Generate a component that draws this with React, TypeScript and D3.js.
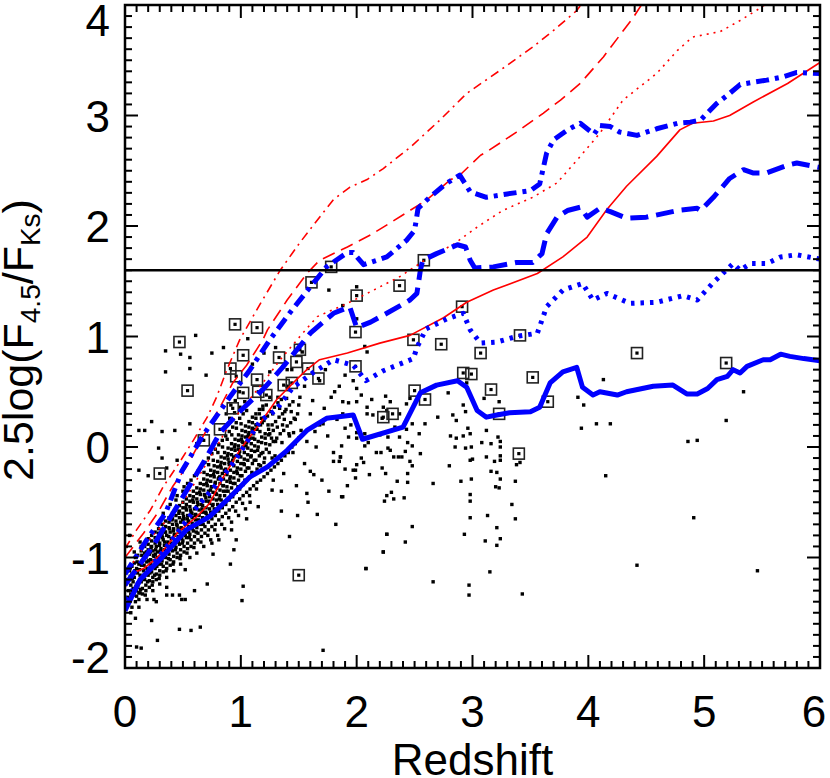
import React from 'react';
import * as d3 from 'd3';

const W = 830, H = 778;
const X0 = 125, X1 = 820, Y0 = 668, Y1 = 5;

const xTickLabels = [0, 1, 2, 3, 4, 5, 6];
const yTickLabels = [-2, -1, 0, 1, 2, 3, 4];
const cutLine = 1.6;
const xLabel = 'Redshift';

// Blue (thick) model tracks
const blueSolid = [[0,-1.48],[0.13,-1.2],[0.3,-1.02],[0.53,-0.75],[0.73,-0.63],[0.91,-0.45],[1.08,-0.27],[1.23,-0.18],[1.4,-0.03],[1.57,0.15],[1.74,0.26],[1.97,0.29],[2.05,0.07],[2.4,0.18],[2.55,0.49],[2.69,0.56],[2.87,0.6],[2.95,0.54],[3.04,0.33],[3.12,0.27],[3.21,0.29],[3.32,0.31],[3.5,0.32],[3.58,0.36],[3.67,0.58],[3.78,0.68],[3.9,0.72],[3.95,0.54],[4.04,0.47],[4.1,0.5],[4.25,0.47],[4.33,0.5],[4.56,0.55],[4.73,0.56],[4.85,0.48],[4.94,0.48],[5.03,0.53],[5.11,0.61],[5.2,0.64],[5.25,0.7],[5.31,0.67],[5.37,0.73],[5.51,0.79],[5.57,0.79],[5.66,0.84],[5.74,0.82],[5.86,0.8],[6,0.78]];
const blueDotted = [[0,-1.38],[0.2,-1.12],[0.4,-0.85],[0.6,-0.57],[0.82,-0.3],[0.93,-0.15],[1.0,-0.04],[1.17,0.24],[1.3,0.33],[1.45,0.54],[1.62,0.67],[1.8,0.79],[1.97,0.74],[2.08,0.6],[2.23,0.69],[2.49,0.8],[2.52,0.9],[2.6,1.07],[2.78,1.16],[2.92,1.21],[2.98,1.06],[3.07,0.94],[3.21,0.95],[3.38,1.0],[3.56,1.03],[3.64,1.27],[3.78,1.42],[3.95,1.48],[4.04,1.33],[4.16,1.39],[4.36,1.3],[4.59,1.31],[4.82,1.37],[4.94,1.33],[5.08,1.49],[5.25,1.66],[5.31,1.6],[5.4,1.66],[5.54,1.66],[5.66,1.72],[5.8,1.74],[6,1.7]];
const blueDashed = [[0,-1.25],[0.24,-0.9],[0.5,-0.45],[0.7,-0.1],[0.82,0.13],[1.0,0.33],[1.19,0.52],[1.36,0.72],[1.6,1.03],[1.8,1.21],[1.94,1.27],[2.0,1.08],[2.12,1.13],[2.26,1.21],[2.46,1.33],[2.52,1.39],[2.55,1.6],[2.57,1.69],[2.69,1.75],[2.87,1.83],[2.94,1.81],[2.98,1.69],[3.02,1.62],[3.18,1.63],[3.38,1.67],[3.52,1.67],[3.6,1.75],[3.64,1.93],[3.73,2.08],[3.82,2.14],[3.93,2.17],[3.99,2.08],[4.1,2.16],[4.19,2.13],[4.33,2.07],[4.5,2.08],[4.77,2.14],[4.94,2.16],[4.97,2.14],[5.08,2.26],[5.22,2.43],[5.34,2.51],[5.42,2.48],[5.54,2.48],[5.72,2.55],[5.8,2.57],[6,2.53]];
const blueDashDot = [[0,-1.15],[0.2,-0.82],[0.35,-0.6],[0.49,-0.22],[0.67,0.1],[0.91,0.46],[1.08,0.7],[1.25,0.97],[1.42,1.21],[1.6,1.45],[1.74,1.63],[1.92,1.76],[1.97,1.76],[2.06,1.65],[2.26,1.72],[2.43,1.87],[2.5,1.96],[2.53,2.16],[2.63,2.26],[2.78,2.39],[2.89,2.46],[2.98,2.31],[3.12,2.26],[3.3,2.29],[3.5,2.32],[3.58,2.38],[3.64,2.66],[3.7,2.78],[3.82,2.87],[3.93,2.93],[4.05,2.83],[4.1,2.91],[4.19,2.9],[4.27,2.85],[4.42,2.82],[4.59,2.88],[4.77,2.93],[4.88,2.94],[4.97,2.96],[5.11,3.11],[5.22,3.2],[5.31,3.28],[5.42,3.3],[5.54,3.32],[5.68,3.35],[5.8,3.39],[6,3.38]];

// Red (thin) model tracks
const redSolid = [[0,-1.27],[0.07,-1.14],[0.16,-1.1],[0.28,-1.0],[0.45,-0.78],[0.62,-0.63],[0.73,-0.51],[0.85,-0.27],[0.99,-0.03],[1.17,0.22],[1.31,0.43],[1.48,0.61],[1.57,0.7],[1.68,0.79],[1.92,0.85],[2.2,0.94],[2.46,1.01],[2.75,1.17],[2.95,1.31],[3.18,1.42],[3.56,1.57],[3.78,1.72],[3.99,1.9],[4.16,2.15],[4.33,2.36],[4.59,2.63],[4.79,2.87],[4.9,2.93],[5.08,2.95],[5.22,3.0],[5.42,3.12],[5.72,3.29],[6,3.48]];
const redDotted = [[0,-1.15],[0.2,-0.85],[0.5,-0.5],[0.71,-0.14],[0.9,0.2],[1.05,0.4],[1.19,0.58],[1.34,0.79],[1.51,1.0],[1.66,1.18],[1.92,1.3],[2.09,1.39],[2.37,1.54],[2.63,1.72],[2.83,1.83],[3.04,1.99],[3.26,2.14],[3.52,2.26],[3.73,2.39],[3.93,2.63],[4.1,2.84],[4.3,3.14],[4.59,3.38],[4.77,3.59],[4.9,3.71],[5.14,3.76],[5.31,3.86],[5.48,3.97],[5.55,4.02]];
const redDashed = [[0,-1.0],[0.16,-0.78],[0.28,-0.6],[0.41,-0.36],[0.53,-0.18],[0.67,0.09],[0.82,0.36],[0.93,0.58],[1.05,0.74],[1.19,0.97],[1.23,1.06],[1.4,1.33],[1.57,1.57],[1.68,1.69],[1.92,1.81],[2.12,1.92],[2.23,1.99],[2.46,2.14],[2.61,2.24],[2.81,2.42],[2.87,2.44],[3.07,2.64],[3.12,2.67],[3.38,2.85],[3.61,3.02],[3.76,3.14],[3.93,3.29],[4.13,3.53],[4.39,3.89],[4.47,4.02]];
const redDashDot = [[0,-0.92],[0.1,-0.75],[0.22,-0.57],[0.33,-0.36],[0.47,-0.14],[0.59,0.06],[0.71,0.27],[0.79,0.45],[0.88,0.7],[0.99,0.97],[1.17,1.3],[1.34,1.6],[1.51,1.85],[1.68,2.08],[1.8,2.24],[1.94,2.35],[2.09,2.42],[2.23,2.52],[2.46,2.71],[2.72,2.96],[2.95,3.2],[3.24,3.41],[3.52,3.62],[3.7,3.77],[3.9,3.95],[3.95,4.02]];

// Galaxies: dense main cloud
const cloud = [[0.02,-1.42],[0.03,-1.3],[0.01,-1.2],[0.04,-1.12],[0.02,-1.36],[0.05,-1.25],
[0.06,-1.45],[0.05,-1.33],[0.07,-1.22],[0.06,-1.15],[0.08,-1.05],[0.07,-1.28],[0.05,-1.5],
[0.09,-1.4],[0.1,-1.3],[0.08,-1.18],[0.1,-1.1],[0.09,-1.0],[0.11,-1.24],[0.1,-1.35],[0.08,-0.95],
[0.12,-1.38],[0.11,-1.27],[0.13,-1.16],[0.12,-1.06],[0.11,-0.98],[0.13,-1.21],[0.12,-1.32],[0.14,-0.9],[0.12,-1.45],
[0.15,-1.33],[0.14,-1.22],[0.16,-1.12],[0.15,-1.03],[0.14,-0.94],[0.16,-1.17],[0.15,-1.28],[0.13,-0.86],[0.16,-1.0],
[0.18,-1.3],[0.17,-1.2],[0.19,-1.1],[0.18,-1.0],[0.17,-0.9],[0.19,-1.15],[0.18,-1.25],[0.2,-0.83],[0.17,-0.96],[0.19,-1.38],
[0.21,-1.27],[0.2,-1.16],[0.22,-1.06],[0.21,-0.97],[0.2,-0.88],[0.22,-1.1],[0.21,-1.21],[0.23,-0.8],[0.2,-0.93],[0.22,-1.02],
[0.24,-1.22],[0.23,-1.13],[0.25,-1.03],[0.24,-0.94],[0.23,-0.85],[0.25,-1.07],[0.24,-1.18],[0.26,-0.77],[0.23,-0.9],[0.25,-0.99],[0.24,-1.3],
[0.27,-1.2],[0.26,-1.1],[0.28,-1.0],[0.27,-0.9],[0.26,-0.82],[0.28,-1.05],[0.27,-1.15],[0.29,-0.74],[0.26,-0.87],[0.28,-0.95],
[0.3,-1.16],[0.29,-1.06],[0.31,-0.96],[0.3,-0.87],[0.29,-0.78],[0.31,-1.01],[0.3,-1.12],[0.32,-0.7],[0.29,-0.83],[0.31,-0.92],[0.3,-1.24],
[0.33,-1.13],[0.32,-1.03],[0.34,-0.93],[0.33,-0.84],[0.32,-0.75],[0.34,-0.98],[0.33,-1.08],[0.35,-0.67],[0.32,-0.8],[0.34,-0.89],[0.33,-0.6],
[0.36,-1.1],[0.35,-1.0],[0.37,-0.9],[0.36,-0.8],[0.35,-0.72],[0.37,-0.95],[0.36,-1.05],[0.38,-0.64],[0.35,-0.77],[0.37,-0.86],[0.36,-1.18],
[0.39,-1.07],[0.38,-0.97],[0.4,-0.87],[0.39,-0.77],[0.38,-0.68],[0.4,-0.92],[0.39,-1.02],[0.41,-0.6],[0.38,-0.73],[0.4,-0.83],[0.39,-0.52],
[0.42,-1.04],[0.41,-0.94],[0.43,-0.84],[0.42,-0.74],[0.41,-0.65],[0.43,-0.89],[0.42,-0.99],[0.44,-0.57],[0.41,-0.7],[0.43,-0.8],[0.42,-1.12],[0.44,-0.48],
[0.45,-1.0],[0.44,-0.91],[0.46,-0.81],[0.45,-0.71],[0.44,-0.62],[0.46,-0.86],[0.45,-0.96],[0.47,-0.53],[0.44,-0.67],[0.46,-0.77],[0.45,-0.44],
[0.48,-0.98],[0.47,-0.88],[0.49,-0.78],[0.48,-0.68],[0.47,-0.58],[0.49,-0.83],[0.48,-0.93],[0.5,-0.5],[0.47,-0.64],[0.49,-0.74],[0.48,-1.06],[0.5,-0.4],
[0.51,-0.95],[0.5,-0.85],[0.52,-0.75],[0.51,-0.65],[0.5,-0.55],[0.52,-0.8],[0.51,-0.9],[0.53,-0.47],[0.5,-0.6],[0.52,-0.7],[0.51,-0.36],
[0.54,-0.92],[0.53,-0.82],[0.55,-0.72],[0.54,-0.62],[0.53,-0.52],[0.55,-0.77],[0.54,-0.87],[0.56,-0.44],[0.53,-0.57],[0.55,-0.67],[0.54,-0.33],[0.56,-1.0],
[0.57,-0.9],[0.56,-0.79],[0.58,-0.69],[0.57,-0.59],[0.56,-0.49],[0.58,-0.74],[0.57,-0.84],[0.59,-0.4],[0.56,-0.54],[0.58,-0.64],[0.57,-0.3],
[0.6,-0.87],[0.59,-0.76],[0.61,-0.66],[0.6,-0.56],[0.59,-0.45],[0.61,-0.71],[0.6,-0.81],[0.62,-0.37],[0.59,-0.5],[0.61,-0.61],[0.6,-0.26],[0.62,-0.96],
[0.63,-0.84],[0.62,-0.73],[0.64,-0.62],[0.63,-0.52],[0.62,-0.42],[0.64,-0.68],[0.63,-0.78],[0.65,-0.33],[0.62,-0.47],[0.64,-0.57],[0.63,-0.22],
[0.66,-0.81],[0.65,-0.7],[0.67,-0.59],[0.66,-0.48],[0.65,-0.38],[0.67,-0.64],[0.66,-0.75],[0.68,-0.29],[0.65,-0.43],[0.67,-0.53],[0.66,-0.18],[0.68,-0.9],
[0.69,-0.78],[0.68,-0.66],[0.7,-0.55],[0.69,-0.44],[0.68,-0.34],[0.7,-0.6],[0.69,-0.72],[0.71,-0.25],[0.68,-0.39],[0.7,-0.49],[0.69,-0.14],
[0.72,-0.75],[0.71,-0.62],[0.73,-0.51],[0.72,-0.4],[0.71,-0.3],[0.73,-0.56],[0.72,-0.68],[0.74,-0.21],[0.71,-0.35],[0.73,-0.45],[0.72,-0.1],[0.74,-0.84],
[0.75,-0.72],[0.74,-0.59],[0.76,-0.47],[0.75,-0.36],[0.74,-0.26],[0.76,-0.52],[0.75,-0.65],[0.77,-0.17],[0.74,-0.31],[0.76,-0.41],[0.75,-0.06],
[0.78,-0.7],[0.77,-0.56],[0.79,-0.43],[0.78,-0.32],[0.77,-0.22],[0.79,-0.48],[0.78,-0.62],[0.8,-0.13],[0.77,-0.27],[0.79,-0.37],[0.78,-0.02],[0.8,-0.8],
[0.81,-0.66],[0.8,-0.52],[0.82,-0.39],[0.81,-0.28],[0.8,-0.18],[0.82,-0.44],[0.81,-0.58],[0.83,-0.09],[0.8,-0.23],[0.82,-0.33],[0.81,0.02],
[0.84,-0.63],[0.83,-0.48],[0.85,-0.35],[0.84,-0.24],[0.83,-0.14],[0.85,-0.4],[0.84,-0.55],[0.86,-0.05],[0.83,-0.19],[0.85,-0.29],[0.84,0.06],[0.86,-0.74],
[0.87,-0.6],[0.86,-0.44],[0.88,-0.31],[0.87,-0.2],[0.86,-0.1],[0.88,-0.36],[0.87,-0.52],[0.89,-0.01],[0.86,-0.15],[0.88,-0.25],[0.87,0.1],
[0.9,-0.57],[0.89,-0.4],[0.91,-0.27],[0.9,-0.16],[0.89,-0.06],[0.91,-0.32],[0.9,-0.48],[0.92,0.03],[0.89,-0.11],[0.91,-0.21],[0.9,0.14],[0.92,-0.68],
[0.93,-0.54],[0.92,-0.37],[0.94,-0.23],[0.93,-0.12],[0.92,-0.02],[0.94,-0.28],[0.93,-0.45],[0.95,0.07],[0.92,-0.07],[0.94,-0.17],[0.93,0.18],
[0.96,-0.5],[0.95,-0.33],[0.97,-0.19],[0.96,-0.08],[0.95,0.02],[0.97,-0.24],[0.96,-0.41],[0.98,0.11],[0.95,-0.03],[0.97,-0.13],[0.96,0.22],[0.98,-0.62],
[0.99,-0.47],[0.98,-0.3],[1.0,-0.15],[0.99,-0.04],[0.98,0.06],[1.0,-0.2],[0.99,-0.38],[1.01,0.15],[0.98,0.01],[1.0,-0.09],[0.99,0.26],
[1.02,-0.44],[1.01,-0.26],[1.03,-0.11],[1.02,0.0],[1.01,0.1],[1.03,-0.16],[1.02,-0.34],[1.04,0.19],[1.01,0.05],[1.03,-0.05],[1.02,0.3],[1.04,-0.56],
[1.05,-0.41],[1.04,-0.22],[1.06,-0.07],[1.05,0.04],[1.04,0.14],[1.06,-0.12],[1.05,-0.3],[1.07,0.23],[1.04,0.09],[1.06,-0.01],[1.05,0.33],
[1.08,-0.38],[1.07,-0.19],[1.09,-0.03],[1.08,0.08],[1.07,0.18],[1.09,-0.08],[1.08,-0.27],[1.1,0.27],[1.07,0.13],[1.09,0.03],[1.08,-0.5],
[1.11,-0.35],[1.1,-0.15],[1.12,0.01],[1.11,0.12],[1.1,0.22],[1.12,-0.04],[1.11,-0.24],[1.13,0.3],[1.1,0.17],[1.12,0.07],
[1.14,-0.32],[1.13,-0.12],[1.15,0.05],[1.14,0.16],[1.13,0.26],[1.15,0.0],[1.14,-0.2],[1.16,0.34],[1.13,0.2],
[1.17,-0.3],[1.16,-0.08],[1.18,0.09],[1.17,0.2],[1.16,0.3],[1.18,0.04],[1.17,-0.17],[1.19,0.37],
[1.2,-0.27],[1.19,-0.05],[1.21,0.12],[1.2,0.24],[1.19,0.34],[1.21,0.08],[1.2,-0.14],
[1.23,-0.24],[1.22,-0.02],[1.24,0.16],[1.23,0.28],[1.22,0.38],[1.24,0.11],
[1.26,-0.21],[1.25,0.02],[1.27,0.2],[1.26,0.32],[1.25,0.12],[1.27,-0.1],
[1.29,-0.18],[1.28,0.05],[1.3,0.23],[1.29,0.36],[1.28,0.15],
[1.32,-0.15],[1.31,0.08],[1.33,0.27],[1.32,0.4],
[1.35,-0.12],[1.34,0.12],[1.36,0.3],[1.35,0.43],
[1.38,-0.08],[1.37,0.15],[1.39,0.34],
[1.41,-0.05],[1.4,0.19],[1.42,0.38],
[1.44,0.0],[1.43,0.22],[1.45,0.41],
[1.47,0.03],[1.46,0.26],
[1.5,0.08],[1.49,0.3],[1.51,0.45]];

// Galaxies: second, irregular pass through the dense cloud
const cloudFill = [[0.035,-1.38],[0.045,-1.17],[0.075,-1.34],[0.085,-1.12],[0.095,-1.26],[0.105,-1.04],[0.125,-1.11],[0.135,-1.29],[0.145,-0.98],[0.155,-1.19],[0.165,-1.07],[0.175,-1.34],[0.185,-0.95],[0.195,-1.22],[0.205,-1.03],[0.215,-1.14],[0.225,-0.91],[0.235,-1.25],[0.245,-0.98],[0.255,-1.16],[0.265,-0.93],[0.275,-1.08],[0.285,-0.85],[0.295,-1.19],[0.305,-0.94],[0.315,-1.06],[0.325,-0.82],[0.335,-0.99],[0.345,-0.77],[0.355,-1.12],[0.365,-0.88],[0.375,-1.01],[0.385,-0.74],[0.395,-0.9],[0.405,-0.66],[0.415,-1.06],[0.425,-0.79],[0.435,-0.93],[0.445,-0.7],[0.455,-0.85],[0.465,-0.6],[0.475,-1.01],[0.485,-0.73],[0.495,-0.87],[0.505,-0.63],[0.515,-0.79],[0.525,-0.55],[0.535,-0.96],[0.545,-0.68],[0.555,-0.82],[0.565,-0.57],[0.575,-0.73],[0.585,-0.48],[0.595,-0.91],[0.605,-0.62],[0.615,-0.77],[0.625,-0.5],[0.635,-0.66],[0.645,-0.41],[0.655,-0.86],[0.665,-0.56],[0.675,-0.7],[0.685,-0.43],[0.695,-0.59],[0.705,-0.33],[0.715,-0.8],[0.725,-0.49],[0.735,-0.63],[0.745,-0.36],[0.755,-0.53],[0.765,-0.25],[0.775,-0.75],[0.785,-0.42],[0.795,-0.57],[0.805,-0.29],[0.815,-0.47],[0.825,-0.17],[0.835,-0.7],[0.845,-0.35],[0.855,-0.5],[0.865,-0.22],[0.875,-0.4],[0.885,-0.08],[0.895,-0.64],[0.905,-0.29],[0.915,-0.43],[0.925,-0.14],[0.935,-0.33],[0.945,0.0],[0.955,-0.58],[0.965,-0.22],[0.975,-0.36],[0.985,-0.07],[0.995,-0.26],[1.005,0.07],[1.015,-0.51],[1.025,-0.15],[1.035,-0.3],[1.045,0.01],[1.055,-0.19],[1.065,0.11],[1.075,-0.44],[1.085,-0.09],[1.095,-0.23],[1.105,0.08],[1.115,-0.12],[1.125,0.16],[1.135,-0.38],[1.145,-0.03],[1.155,-0.16],[1.165,0.14],[1.175,-0.06],[1.185,0.22],[1.205,-0.1],[1.215,0.03],[1.235,0.2],[1.245,-0.05],[1.265,0.08],[1.275,0.3],[1.295,-0.08],[1.315,0.18],[1.335,0.35],[1.355,0.04],[1.375,0.25],[1.395,0.44],[1.415,0.12],[1.435,0.32],[1.455,0.13],
[0.062,-1.19],[0.108,-1.14],[0.142,-1.07],[0.188,-1.04],[0.218,-0.95],[0.262,-0.97],[0.298,-0.89],[0.342,-0.86],[0.378,-0.81],[0.418,-0.76],[0.458,-0.74],[0.498,-0.66],[0.538,-0.65],[0.578,-0.6],[0.618,-0.54],[0.658,-0.52],[0.698,-0.46],[0.738,-0.39],[0.778,-0.33],[0.818,-0.27],[0.858,-0.21],[0.898,-0.14],[0.938,-0.09],[0.978,-0.02],[1.018,0.04],[1.058,0.09],[1.098,0.15],[1.138,0.2],[1.178,0.26],[0.682,-0.23],[0.722,-0.16],[0.762,-0.12],[0.802,-0.05],[0.842,0.0],[0.882,0.07],[0.922,0.11],[0.962,0.17],[1.002,0.21],[0.904,0.26],[0.946,0.31],[0.992,0.36],[1.034,0.41],[0.874,0.3],[0.952,0.42],[0.988,0.5],[0.914,0.38]];

// Galaxies: scattered outliers and the high-z tail
const scatter = [[0.09,-1.55],[0.23,-1.57],[0.28,-1.75],[0.1,-1.81],[0.14,-1.82],[0.47,-1.65],[0.57,-1.66],[0.65,-1.63],[1.01,-1.39],[1.02,-1.26],[0.91,-1.06],[0.71,-1.24],[0.6,-1.3],[0.52,-1.38],[0.47,-1.34],[0.41,-1.34],[0.36,-1.27],[0.25,-1.38],[0.27,-1.4],[1.71,-1.84],[2.08,-1.1],[2.23,-0.95],[2.26,-0.79],[1.42,-0.81],[1.35,-0.58],[1.49,-0.62],[1.66,-0.61],[0.96,-0.84],[0.94,-0.93],[0.81,-0.84],[0.76,-0.97],[0.52,-1.11],[0.75,-0.87],[0.92,-0.75],[1.05,-0.65],[1.15,-0.54],[1.27,-0.39],[1.87,-0.45],[1.57,-0.42],[1.37,-0.24],[1.6,-0.22],[1.64,0.14],[1.71,0.21],[1.8,-0.13],[1.86,-0.09],[1.97,-0.21],[1.99,-0.28],
[0.04,-0.8],[0.01,-0.9],[0.06,-1.08],[0.13,-1.32],[0.36,-1.34],[0.49,-1.38],
[0.35,0.87],[0.48,0.84],[0.56,0.81],[0.61,1.01],[0.35,0.68],[0.56,0.71],[0.7,0.65],[1.06,0.98],[1.76,1.42],[2.0,1.45],[1.88,1.28],[2.0,1.16],[2.07,0.91],[2.09,0.86],[1.53,0.86],[0.23,0.23],[0.12,0.15],[0.17,0.15],[0.32,0.14],[0.43,0.15],[0.29,-0.01],[0.12,-0.21],[0.2,-0.26],[0.36,-0.19],[0.32,-0.1],[0.45,-0.12],[0.56,0.21],[0.62,0.03],
[1.1,0.75],[1.25,0.68],[1.3,0.9],[1.2,0.85],[1.4,0.7],[0.85,0.9],[0.75,0.85],
[1.3,0.05],[1.33,-0.1],[1.36,0.2],[1.38,0.32],[1.42,0.1],[1.45,-0.05],[1.47,0.25],[1.5,0.38],[1.52,0.15],[1.55,-0.15],[1.57,0.05],[1.6,0.3],[1.62,0.42],[1.65,0.0],[1.68,0.2],[1.7,-0.3],[1.72,0.35],[1.75,0.1],[1.78,0.45],[1.8,-0.05],[1.83,0.25],[1.85,0.55],[1.88,0.3],[1.9,-0.2],[1.93,0.4],[1.95,0.2],[1.97,0.6],[1.32,0.45],[1.4,0.55],[1.48,-0.35],[1.58,-0.5],[1.63,-0.25],[1.76,-0.4],[1.82,-0.7],[1.9,0.65],[1.92,-0.35],[1.55,0.55],[1.68,0.6],[1.73,0.7],[1.44,0.7],[1.35,-0.4],[1.28,-0.3],[1.25,0.45],[1.2,0.55],
[2.79,0.49],[2.95,0.58],[2.92,0.38],[2.94,0.32],[3.1,0.44],[3.23,0.41],[2.7,0.27],[2.83,0.29],[2.86,0.24],[2.59,0.21],[2.54,0.12],[2.81,0.1],[2.86,0.08],[2.92,0.1],[2.98,0.12],[2.96,0.17],[3.12,0.15],[3.22,0.09],[3.08,0.04],[3.16,0.03],[3.24,0.05],[3.24,0.0],[2.85,0.0],[2.94,-0.01],[2.99,0.0],[3.12,-0.09],[3.19,-0.13],[3.24,-0.12],[2.98,-0.12],[3.0,-0.11],[3.24,-0.08],[2.8,-0.17],[2.55,-0.06],[2.48,0.01],[2.44,0.04],[2.42,-0.04],[2.36,-0.09],[2.32,-0.09],[2.46,-0.13],[2.48,-0.17],[2.44,-0.24],[2.44,-0.32],[2.35,-0.31],[3.16,-0.22],[3.21,-0.23],[3.24,-0.29],[3.2,-0.36],[3.23,-0.37],[2.9,-0.31],[2.99,-0.29],[2.66,-0.33],[2.98,-0.43],[2.98,-0.49],[3.37,-0.31],[3.38,-0.16],[3.41,-0.14],[3.34,-0.52],[3.37,-0.65],[2.98,-0.64],[3.13,-0.62],[3.21,-0.73],[3.24,-0.83],[3.11,-0.85],[3.21,-0.89],[2.93,-0.79],[2.48,-0.72],[2.26,-0.79],[2.42,-0.86],[2.23,-0.95],[2.08,-1.1],[2.66,-1.22],[2.97,-1.25],[2.97,-1.34],[3.15,-1.13],[3.43,-1.33],[1.88,-0.45],[2.3,-0.41],[2.26,-0.44],[2.32,-0.47],[2.24,-0.49],[2.41,-0.46],[2.22,-0.19],[2.25,-0.24],[2.11,-0.25],[1.99,-0.21],[2.06,-0.14],[2.0,-0.16],[1.85,-0.13],[1.86,-0.09],[2.04,-0.1],[2.17,-0.05],[2.21,-0.05],[2.27,-0.01],[2.29,-0.03],[2.39,-0.09],[2.07,0.01],[1.87,0.01],[1.93,0.09],[2.0,0.08],[1.9,0.17],[2.0,0.13],[2.07,0.12],[2.1,0.04],[2.2,0.11],[2.27,0.09],[2.37,0.09],[2.43,0.16],[2.33,0.18],[2.48,0.21],[2.37,0.3],[2.26,0.33],[2.22,0.26],[2.14,0.29],[2.09,0.3],[2.09,0.36],[2.0,0.41],[2.04,0.47],[2.0,0.53],[1.88,0.41],[1.81,0.5],[2.13,0.43],[2.25,0.46],[2.29,0.41],[2.43,0.39],[2.46,0.44],[2.23,0.36],
[4.13,0.61],[3.91,0.45],[3.96,0.38],[3.94,0.17],[4.07,0.21],[4.19,0.21],[4.15,-0.26],[4.86,0.05],[4.94,0.06],[5.19,0.24],[5.34,0.5],[4.91,-0.64],[4.42,-1.07],[5.46,-1.12]];

// Highlighted (boxed) sources
const boxed = [[0.47,0.95],[0.95,1.11],[1.14,1.08],[1.61,1.49],[1.78,1.63],[2.0,1.37],[1.99,1.04],[1.02,0.83],[1.33,0.81],[0.91,0.71],[1.51,0.88],[1.48,0.77],[1.58,0.71],[1.67,0.62],[1.99,0.73],[1.14,0.61],[0.54,0.51],[0.96,0.64],[1.37,0.56],[1.44,0.58],[2.58,1.69],[2.37,1.46],[2.91,1.27],[3.41,1.01],[2.49,0.97],[2.73,0.93],[3.07,0.85],[3.52,0.63],[2.92,0.67],[2.99,0.66],[3.16,0.52],[2.5,0.51],[2.59,0.43],[3.65,0.41],[3.23,0.3],[2.31,0.3],[2.23,0.27],[4.42,0.85],[5.19,0.76],[1.5,-1.16],[0.3,-0.24],[1.02,0.49],[1.15,0.5],[1.22,0.47],[0.93,0.35],[0.82,0.16],[0.68,0.06],[3.4,-0.06]];

const FONT = '"Liberation Sans", Arimo, Helvetica, Arial, sans-serif';

export default function App() {
  const x = d3.scaleLinear().domain([0, 6]).range([X0, X1]);
  const y = d3.scaleLinear().domain([-2, 4]).range([Y0, Y1]);
  const line = d3.line<number[]>().x(d => x(d[0])).y(d => y(d[1]));

  const curves = [
    { data: redDashDot, color: '#ff0000', w: 1.6, dash: '9 5 2 5' },
    { data: redDashed, color: '#ff0000', w: 1.6, dash: '13 7' },
    { data: redDotted, color: '#ff0000', w: 1.6, dash: '2 5' },
    { data: redSolid, color: '#ff0000', w: 1.6, dash: null },
    { data: blueDashDot, color: '#0000ff', w: 5, dash: '13 6 4 6' },
    { data: blueDashed, color: '#0000ff', w: 5, dash: '18 8' },
    { data: blueDotted, color: '#0000ff', w: 5, dash: '3.5 6' },
    { data: blueSolid, color: '#0000ff', w: 5, dash: null },
  ];

  const minorX = d3.range(0, 61).map(i => i / 10);
  const minorY = d3.range(-20, 41).map(i => i / 10);
  const majX = new Set(xTickLabels);
  const majY = new Set(yTickLabels);
  const dots = cloud.concat(cloudFill, scatter);

  return (
    <svg width={W} height={H} style={{ position: 'absolute', left: 0, top: 0, background: '#fff' }}
      fontFamily={FONT}>
      <defs>
        <clipPath id="plot"><rect x={X0} y={Y1} width={X1 - X0} height={Y0 - Y1} /></clipPath>
      </defs>
      <rect x={0} y={0} width={W} height={H} fill="#fff" />
      <g clipPath="url(#plot)">
        {dots.map((d, i) => (
          <rect key={'p' + i} x={x(d[0]) - 1.7} y={y(d[1]) - 1.7} width={3.4} height={3.4} fill="#000" />
        ))}
        {boxed.map((d, i) => (
          <g key={'b' + i}>
            <rect x={x(d[0]) - 5.5} y={y(d[1]) - 5.5} width={11} height={11} fill="none" stroke="#222" strokeWidth={1.6} />
            <rect x={x(d[0]) - 1.6} y={y(d[1]) - 1.6} width={3.2} height={3.2} fill="#000" />
          </g>
        ))}
        {curves.map((c, i) => (
          <path key={'c' + i} d={line(c.data as any) || ''} fill="none" stroke={c.color} strokeWidth={c.w}
            strokeDasharray={c.dash || undefined} strokeLinejoin="round" />
        ))}
        <line x1={X0} x2={X1} y1={y(cutLine)} y2={y(cutLine)} stroke="#000" strokeWidth={2.5} />
      </g>
      <g stroke="#000" strokeWidth={2}>
        {minorX.map((v, i) => {
          const L = majX.has(v) ? 13 : 7;
          return (
            <g key={'tx' + i}>
              <line x1={x(v)} x2={x(v)} y1={Y0} y2={Y0 - L} />
              <line x1={x(v)} x2={x(v)} y1={Y1} y2={Y1 + L} />
            </g>
          );
        })}
        {minorY.map((v, i) => {
          const L = majY.has(v) ? 13 : 7;
          return (
            <g key={'ty' + i}>
              <line x1={X0} x2={X0 + L} y1={y(v)} y2={y(v)} />
              <line x1={X1} x2={X1 - L} y1={y(v)} y2={y(v)} />
            </g>
          );
        })}
      </g>
      <rect x={X0} y={Y1} width={X1 - X0} height={Y0 - Y1} fill="none" stroke="#000" strokeWidth={2.5} />
      <g fontSize={44} fill="#000">
        {xTickLabels.map(v => (
          <text key={'lx' + v} x={Math.min(x(v), 814)} y={727} textAnchor="middle">{v}</text>
        ))}
        {yTickLabels.map(v => {
          const cy = Math.max(20, Math.min(657, y(v)));
          return <text key={'ly' + v} x={110} y={cy + 16} textAnchor="end">{v < 0 ? '-' + Math.abs(v) : v}</text>;
        })}
      </g>
      <text x={(X0 + X1) / 2} y={775} textAnchor="middle" fontSize={44}>{xLabel}</text>
      <text transform="translate(33,340) rotate(-90)" textAnchor="middle" fontSize={43}>
        2.5log(F<tspan dy={7} fontSize={28}>4.5</tspan><tspan dy={-7}>/F</tspan><tspan dy={7} fontSize={28}>Ks</tspan><tspan dy={-7}>)</tspan>
      </text>
    </svg>
  );
}
